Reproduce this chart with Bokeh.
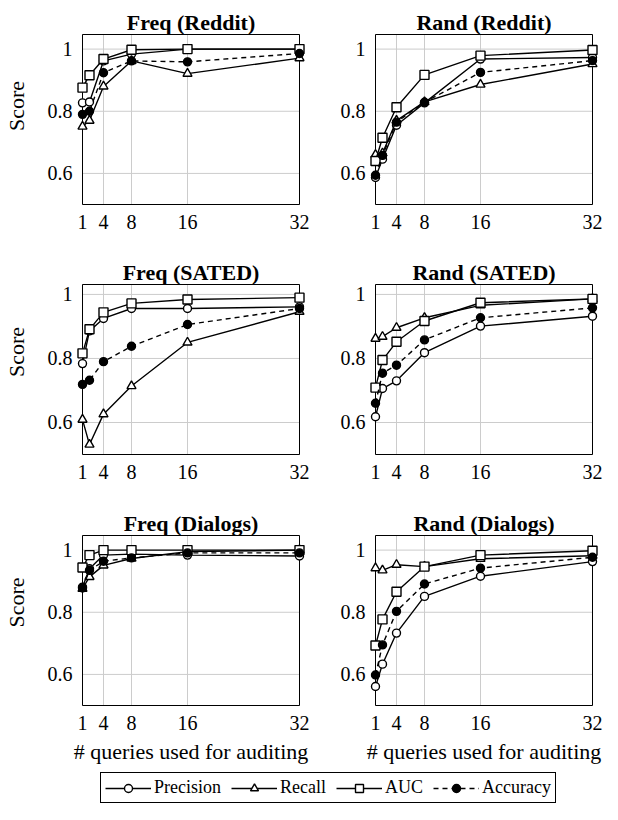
from bokeh.plotting import figure
from bokeh.layouts import column, row
from bokeh.models import (Range1d, FixedTicker, CustomJSTickFormatter, Legend, LegendItem, Label)
from bokeh.embed import file_html
from bokeh.resources import INLINE

# ---------------- data ----------------
queries = [1, 2, 4, 8, 16, 32]
x_ticks = [1, 4, 8, 16, 32]
y_ticks = [0.6, 0.8, 1.0]
x_min, x_max = 1, 32
y_min = 0.5

freq_reddit_precision = [0.827, 0.830, 0.962, 0.984, 1.000, 1.000]
freq_reddit_recall    = [0.751, 0.770, 0.880, 0.962, 0.921, 0.971]
freq_reddit_auc       = [0.876, 0.916, 0.968, 0.998, 1.000, 1.000]
freq_reddit_accuracy  = [0.790, 0.800, 0.924, 0.962, 0.959, 0.986]

rand_reddit_precision = [0.587, 0.646, 0.755, 0.827, 0.968, 0.973]
rand_reddit_recall    = [0.660, 0.665, 0.770, 0.830, 0.886, 0.952]
rand_reddit_auc       = [0.640, 0.715, 0.813, 0.917, 0.979, 0.997]
rand_reddit_accuracy  = [0.594, 0.658, 0.765, 0.829, 0.925, 0.963]

freq_sated_precision = [0.784, 0.886, 0.925, 0.956, 0.956, 0.961]
freq_sated_recall    = [0.609, 0.531, 0.626, 0.714, 0.850, 0.946]
freq_sated_auc       = [0.816, 0.891, 0.944, 0.972, 0.984, 0.990]
freq_sated_accuracy  = [0.719, 0.732, 0.790, 0.838, 0.906, 0.956]

rand_sated_precision = [0.618, 0.706, 0.730, 0.818, 0.901, 0.932]
rand_sated_recall    = [0.862, 0.868, 0.896, 0.927, 0.966, 0.986]
rand_sated_auc       = [0.709, 0.795, 0.852, 0.917, 0.974, 0.986]
rand_sated_accuracy  = [0.660, 0.754, 0.779, 0.858, 0.927, 0.958]

freq_dialogs_precision = [0.881, 0.940, 0.984, 0.987, 0.984, 0.981]
freq_dialogs_recall    = [0.876, 0.914, 0.951, 0.973, 0.995, 1.000]
freq_dialogs_auc       = [0.944, 0.984, 1.000, 1.000, 1.000, 1.000]
freq_dialogs_accuracy  = [0.878, 0.935, 0.964, 0.975, 0.991, 0.991]

rand_dialogs_precision = [0.561, 0.633, 0.733, 0.851, 0.916, 0.963]
rand_dialogs_recall    = [0.942, 0.935, 0.953, 0.947, 0.972, 0.982]
rand_dialogs_auc       = [0.693, 0.777, 0.866, 0.947, 0.984, 0.998]
rand_dialogs_accuracy  = [0.598, 0.695, 0.803, 0.891, 0.942, 0.977]

series_names = ["Precision", "Recall", "AUC", "Accuracy"]

# ---------------- styles ----------------
FONT = "Liberation Serif"
STYLES = {
    "Precision": dict(marker="circle", size=8, fill="white", dash="solid"),
    "Recall":    dict(marker="triangle", size=9, fill="white", dash="solid"),
    "AUC":       dict(marker="square", size=9, fill="white", dash="solid"),
    "Accuracy":  dict(marker="circle", size=8, fill="black", dash="5 4"),
}
LW = 1.4
BOX_W, BOX_H = 217, 170   # visible axis box, px
M = 7                     # extra frame margin so markers are not clipped

fmt = CustomJSTickFormatter(code="return Math.abs(tick - 1) < 1e-9 ? '1' : tick.toFixed(1);")


def panel(title, data, ymax, bl, br, bt, bb, ylabel, xlabel):
    sx = BOX_W / (x_max - x_min)
    sy = BOX_H / (ymax - y_min)
    # the (invisible) frame also covers the title strip above the axis box
    p = figure(frame_width=BOX_W + 2 * M, frame_height=BOX_H + M + bt,
               min_border_left=bl - M, min_border_right=br - M,
               min_border_top=0, min_border_bottom=bb - M,
               x_range=Range1d(x_min - M / sx, x_max + M / sx),
               y_range=Range1d(y_min - M / sy, ymax + bt / sy),
               output_backend="svg", toolbar_location=None, title=None)
    p.add_layout(Label(x=(BOX_W + 2 * M) / 2, y=M + BOX_H + 12,
                       x_units="screen", y_units="screen", text=title,
                       text_font=FONT, text_font_size="22px", text_font_style="bold",
                       text_align="center", text_baseline="alphabetic",
                       text_color="black"))

    p.xaxis.ticker = FixedTicker(ticks=x_ticks)
    p.yaxis.ticker = FixedTicker(ticks=y_ticks)
    p.yaxis.formatter = fmt
    for ax in (p.xaxis, p.yaxis):
        ax.major_label_text_font = FONT
        ax.major_label_text_font_size = "20px"
        ax.major_label_text_color = "black"
        ax.major_tick_in = 0
        ax.major_tick_out = 0
        ax.minor_tick_in = 0
        ax.minor_tick_out = 0
        ax.axis_line_color = None
        ax.axis_label_text_font = FONT
        ax.axis_label_text_font_size = "22px"
        ax.axis_label_text_font_style = "normal"
        ax.axis_label_text_color = "black"
    p.xaxis.major_label_standoff = 3
    p.yaxis.major_label_standoff = 3
    if ylabel:
        p.yaxis.axis_label = "Score"
        p.yaxis.axis_label_standoff = 16
    if xlabel:
        p.xaxis.axis_label = "# queries used for auditing"
        p.xaxis.axis_label_standoff = 6

    p.grid.visible = False
    p.outline_line_color = None
    p.background_fill_color = "white"
    p.border_fill_color = "white"

    p.segment(x0=x_ticks, y0=[y_min] * len(x_ticks), x1=x_ticks, y1=[ymax] * len(x_ticks),
              line_color="#cccccc", line_width=1)
    p.segment(x0=[x_min] * len(y_ticks), y0=y_ticks, x1=[x_max] * len(y_ticks), y1=y_ticks,
              line_color="#cccccc", line_width=1)
    p.quad(left=[x_min], right=[x_max], bottom=[y_min], top=[ymax],
           fill_color=None, line_color="black", line_width=1)

    for name, ys in zip(series_names, data):
        st = STYLES[name]
        p.line(queries, ys, line_color="black", line_width=LW, line_dash=st["dash"])
        p.scatter(queries, ys, marker=st["marker"], size=st["size"],
                  line_color="black", fill_color=st["fill"], line_width=LW)
    return p


p1 = panel("Freq (Reddit)", [freq_reddit_precision, freq_reddit_recall, freq_reddit_auc, freq_reddit_accuracy],
           1.047, 75, 20, 34, 38, True, False)
p2 = panel("Rand (Reddit)", [rand_reddit_precision, rand_reddit_recall, rand_reddit_auc, rand_reddit_accuracy],
           1.047, 56, 17, 34, 38, False, False)
p3 = panel("Freq (SATED)", [freq_sated_precision, freq_sated_recall, freq_sated_auc, freq_sated_accuracy],
           1.031, 75, 20, 42, 38, True, False)
p4 = panel("Rand (SATED)", [rand_sated_precision, rand_sated_recall, rand_sated_auc, rand_sated_accuracy],
           1.031, 56, 17, 42, 38, False, False)
p5 = panel("Freq (Dialogs)", [freq_dialogs_precision, freq_dialogs_recall, freq_dialogs_auc, freq_dialogs_accuracy],
           1.047, 70, 20, 43, 67, True, True)
p6 = panel("Rand (Dialogs)", [rand_dialogs_precision, rand_dialogs_recall, rand_dialogs_auc, rand_dialogs_accuracy],
           1.047, 56, 22, 43, 67, False, True)

# ---------------- legend ----------------
lg = figure(width=602, height=32, x_range=Range1d(0, 1), y_range=Range1d(0, 1),
            min_border_left=0, min_border_right=0, min_border_top=0, min_border_bottom=0,
            x_axis_location=None, y_axis_location=None,
            output_backend="svg", toolbar_location=None)
lg.outline_line_color = None
lg.grid.visible = False
nan = float("nan")
items = []
for name in series_names:
    st = STYLES[name]
    l = lg.line([nan], [nan], line_color="black", line_width=LW, line_dash=st["dash"])
    s = lg.scatter([nan], [nan], marker=st["marker"], size=st["size"], line_color="black",
                   fill_color=st["fill"], line_width=LW)
    items.append(LegendItem(label=name, renderers=[l, s]))
legend = Legend(items=items, location=(100, 1), orientation="horizontal",
                border_line_color="black", border_line_width=1, border_line_alpha=1,
                padding=4, spacing=10, label_standoff=3, glyph_width=46,
                glyph_height=20, label_height=20, margin=0,
                label_text_font=FONT, label_text_font_size="18px",
                label_text_color="black", background_fill_alpha=1)
lg.add_layout(legend, "center")

layout = column(row(p1, p2), row(p3, p4), row(p5, p6), lg)
open("out.html", "w").write(file_html(layout, INLINE))
